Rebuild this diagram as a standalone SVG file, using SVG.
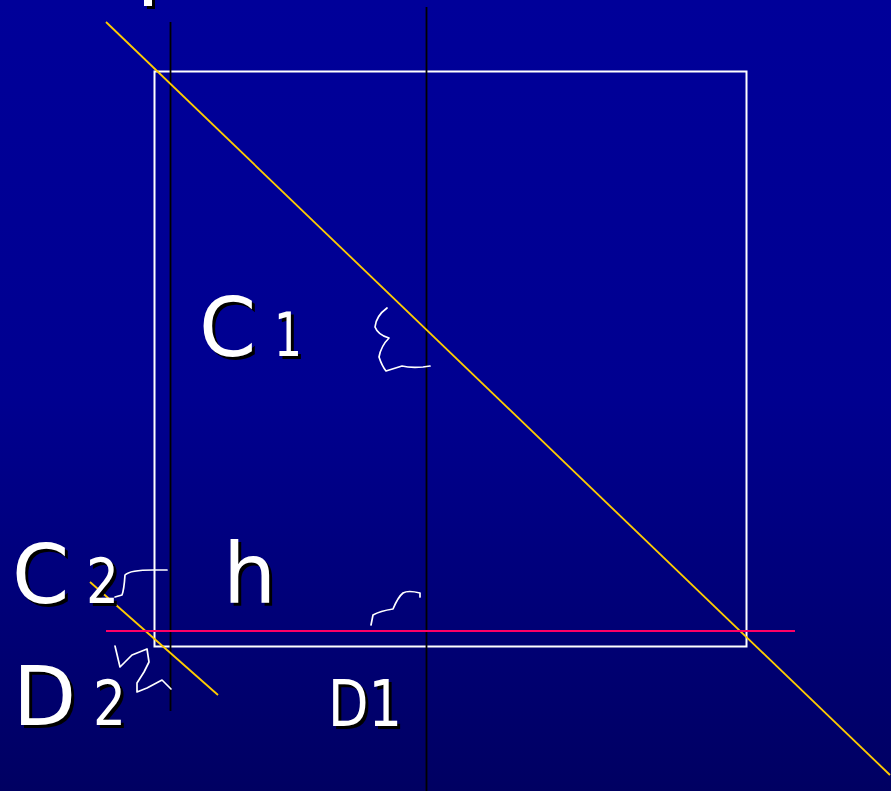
<svg xmlns="http://www.w3.org/2000/svg" width="891" height="791" viewBox="0 0 891 791">
<defs>
<linearGradient id="bg" x1="0" y1="0" x2="0" y2="1">
<stop offset="0" stop-color="#000099"/>
<stop offset="0.5" stop-color="#000090"/>
<stop offset="1" stop-color="#000062"/>
</linearGradient>
</defs>
<style>
.lbl{font-family:"DejaVu Sans","Liberation Sans",sans-serif;fill:#FFFFFF}
.sh{font-family:"DejaVu Sans","Liberation Sans",sans-serif;fill:#000000}
.sq{fill:none;stroke:#FFFFFF;stroke-width:1.7;stroke-linejoin:round;stroke-linecap:round}
.yl{stroke:#FFCC00;stroke-width:1.8}
.bk{stroke:#000000;stroke-width:1.8}
</style>
<rect x="0" y="0" width="891" height="791" fill="url(#bg)"/>
<g id="square">
<rect x="154.5" y="71.5" width="592" height="575" fill="none" stroke="#FFFFFF" stroke-width="2"/>
</g>
<g id="connectors">
<line class="bk" x1="170.5" y1="22" x2="170.5" y2="711"/>
<line class="bk" x1="426.5" y1="7" x2="426.5" y2="791"/>
<line class="yl" x1="106" y1="22" x2="890" y2="775"/>
<line class="yl" x1="90" y1="582" x2="218" y2="695"/>
<line x1="106" y1="631" x2="795" y2="631" stroke="#FF0066" stroke-width="1.8"/>
<path class="sq" d="M387,308 Q376,316 375,327 Q378,335 389,338 Q381,346 379,357 Q382,366 386,371 L402,366 Q410,368 423,367 L430,366"/>
<path class="sq" d="M371,625 L373,615 Q380,611 393,609 Q398,597 403,593 Q408,590 420,593 L420,597"/>
<path class="sq" d="M167,570 L153,570 Q130,570 125,575 Q124,590 122,595 L115,597"/>
<polyline class="sq" points="115,646 120,667 132,655 147,649 149,662 144,672 137,683 137,692 147,688 162,680 171,689"/>
</g>
<g id="top-fragment">
<rect x="147" y="0" width="8" height="9" fill="#000000"/>
<rect x="144" y="0" width="8" height="6" fill="#FFFFFF"/>
</g>
<g id="label-C1">
<text class="sh" x="202" y="359" font-size="82">C</text>
<text class="lbl" x="199" y="356" font-size="82">C</text>
<text class="sh" x="277" y="359" font-size="60" textLength="28" lengthAdjust="spacingAndGlyphs">1</text>
<text class="lbl" x="274" y="356" font-size="60" textLength="28" lengthAdjust="spacingAndGlyphs">1</text>
</g>
<g id="label-C2">
<text class="sh" x="15" y="606" font-size="82">C</text>
<text class="lbl" x="12" y="603" font-size="82">C</text>
<text class="sh" x="89" y="606" font-size="62" textLength="33" lengthAdjust="spacingAndGlyphs">2</text>
<text class="lbl" x="86" y="603" font-size="62" textLength="33" lengthAdjust="spacingAndGlyphs">2</text>
</g>
<g id="label-h">
<text class="sh" x="226" y="606" font-size="84">h</text>
<text class="lbl" x="223" y="603" font-size="84">h</text>
</g>
<g id="label-D2">
<text class="sh" x="16" y="728" font-size="82">D</text>
<text class="lbl" x="13" y="725" font-size="82">D</text>
<text class="sh" x="96" y="728" font-size="62" textLength="33" lengthAdjust="spacingAndGlyphs">2</text>
<text class="lbl" x="93" y="725" font-size="62" textLength="33" lengthAdjust="spacingAndGlyphs">2</text>
</g>
<g id="label-D1">
<text class="sh" x="331" y="729" font-size="64" textLength="74" lengthAdjust="spacingAndGlyphs">D1</text>
<text class="lbl" x="328" y="726" font-size="64" textLength="74" lengthAdjust="spacingAndGlyphs">D1</text>
</g>
</svg>
